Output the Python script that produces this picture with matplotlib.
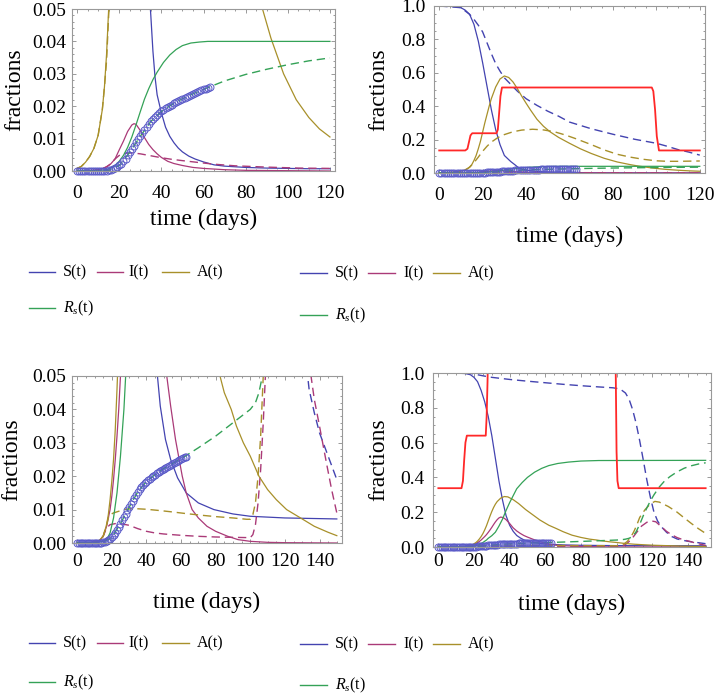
import matplotlib
matplotlib.use('Agg')
import matplotlib.pyplot as plt
from matplotlib.ticker import MultipleLocator, FormatStrFormatter
from matplotlib.lines import Line2D

plt.rcParams['font.family'] = ['Liberation Serif', 'DejaVu Serif']
plt.rcParams['mathtext.fontset'] = 'custom'
plt.rcParams['mathtext.rm'] = 'Liberation Serif'
plt.rcParams['mathtext.it'] = 'Liberation Serif:italic'

# ---- observed data (circles), shared by all panels ----
obs_day = list(range(64))
obs = [0, 0, 0, 0, 0, 0, 0, 0, 0, 0, 0, 0, 0,
       0.00005, 0.0001, 0.0002, 0.0004, 0.0006, 0.0009, 0.0013, 0.0017, 0.0023, 0.003,
       0.0038, 0.0048, 0.0058, 0.0068, 0.0078, 0.0088, 0.0098, 0.0107, 0.0117, 0.0126,
       0.0136, 0.0145, 0.0153, 0.0161, 0.0168, 0.0174, 0.0179, 0.0184, 0.0189, 0.0193,
       0.0197, 0.0201, 0.0205, 0.0209, 0.0213, 0.0216, 0.022, 0.0223, 0.0226, 0.0229,
       0.0232, 0.0235, 0.0238, 0.0241, 0.0244, 0.0247, 0.0249, 0.0252, 0.0254, 0.0256, 0.0258]

# ---- scenario 1 (top panels), days 0-120 ----
t_S1 = [0, 4, 8, 10, 12, 14, 16, 18, 20, 22, 24, 26, 28, 30, 32, 33, 34, 35, 36, 37, 38, 40, 42, 44,
        46, 48, 50, 53, 56, 60, 65, 70, 80, 90, 100, 110, 120]
S1 = [1.0, 0.999, 0.995, 0.99, 0.975, 0.95, 0.89, 0.79, 0.66, 0.52, 0.38, 0.26, 0.17, 0.105, 0.08,
      0.068, 0.058, 0.048, 0.037, 0.029, 0.0235, 0.018, 0.0135, 0.0107, 0.0087, 0.0071, 0.0059,
      0.0046, 0.0037, 0.0028, 0.0019, 0.0015, 0.0011, 0.0009, 0.0008, 0.0007, 0.0007]
t_S1d = [0, 10, 14, 16, 18, 20, 22, 24, 26, 28, 30, 33, 36, 40, 45, 50, 55, 60, 70, 80, 90, 100,
         105, 110, 115, 120]
S1d = [1.0, 0.99, 0.95, 0.92, 0.885, 0.845, 0.78, 0.715, 0.655, 0.61, 0.57, 0.53, 0.49, 0.445,
       0.405, 0.37, 0.34, 0.305, 0.265, 0.232, 0.202, 0.178, 0.16, 0.14, 0.125, 0.107]
t_I1 = [0, 5, 8, 10, 12, 14, 16, 18, 20, 22, 24, 26, 27, 28, 30, 32, 34, 36, 38, 40, 43, 46, 50,
        55, 60, 70, 80, 100, 120]
I1 = [0, 0.0001, 0.0002, 0.0004, 0.0007, 0.0013, 0.0022, 0.0037, 0.0065, 0.0092, 0.0122, 0.0142,
      0.0146, 0.0144, 0.0125, 0.0103, 0.0082, 0.0066, 0.0053, 0.0042, 0.003, 0.0023, 0.0017,
      0.0011, 0.0008, 0.0004, 0.0002, 0.0001, 0.0]
t_I1d = [0, 5, 8, 10, 12, 14, 16, 18, 20, 23, 26, 30, 35, 40, 45, 50, 58, 65, 75, 90, 105, 120]
I1d = [0, 0.0001, 0.0002, 0.0004, 0.0007, 0.0013, 0.0022, 0.0037, 0.0048, 0.0055, 0.0056, 0.0053,
       0.0047, 0.0041, 0.0036, 0.0032, 0.0026, 0.0021, 0.0016, 0.0012, 0.0009, 0.0008]
t_A1 = [0, 2, 4, 6, 8, 10, 12, 13, 14, 15, 16, 17, 18, 19, 20, 21, 22, 23, 24, 26, 28, 30, 32, 34,
        36, 38, 40, 42, 45, 48, 51, 55, 60, 65, 70, 76, 82, 88, 92, 98, 104, 110, 115, 120]
A1 = [0.0008, 0.0014, 0.0027, 0.0045, 0.007, 0.011, 0.019, 0.026, 0.036, 0.05, 0.075, 0.105, 0.145,
      0.19, 0.245, 0.3, 0.35, 0.4, 0.445, 0.515, 0.563, 0.581, 0.572, 0.545, 0.505, 0.46, 0.418,
      0.378, 0.322, 0.28, 0.247, 0.213, 0.178, 0.145, 0.117, 0.088, 0.066, 0.05, 0.041, 0.03,
      0.022, 0.0165, 0.013, 0.0105]
t_A1d = [0, 2, 4, 6, 8, 10, 12, 13, 14, 16, 18, 20, 22, 24, 27, 30, 34, 38, 43, 48, 53, 58, 63, 70,
         76, 82, 88, 94, 100, 105, 110, 115, 120]
A1d = [0.0008, 0.0014, 0.0027, 0.0045, 0.007, 0.011, 0.019, 0.026, 0.034, 0.062, 0.095, 0.13, 0.16,
       0.185, 0.212, 0.23, 0.247, 0.257, 0.262, 0.258, 0.247, 0.228, 0.205, 0.17, 0.138, 0.112,
       0.095, 0.082, 0.073, 0.07, 0.07, 0.071, 0.072]
t_R1 = [0, 10, 14, 16, 18, 20, 22, 24, 26, 28, 30, 32, 34, 36, 38, 41, 44, 47, 50, 54, 58, 62, 70, 120]
R1 = [0, 0.0001, 0.0004, 0.0009, 0.0017, 0.003, 0.0048, 0.0073, 0.0105, 0.0143, 0.0183, 0.0222,
      0.0254, 0.0282, 0.0305, 0.0335, 0.0358, 0.0375, 0.0387, 0.0395, 0.0398, 0.04, 0.04, 0.04]
t_R1d = [0, 10, 15, 20, 25, 30, 35, 40, 45, 50, 55, 60, 65, 70, 80, 90, 100, 110, 120]
R1d = [0, 0, 0.0002, 0.0017, 0.0058, 0.0107, 0.0153, 0.0184, 0.0205, 0.0223, 0.0238, 0.0252,
       0.0265, 0.0278, 0.0298, 0.0314, 0.0328, 0.034, 0.0349]
t_Q1 = [0, 12, 13, 13.7, 14.4, 15.2, 26.4, 27, 27.6, 28.2, 28.9, 97.9, 98.6, 99.4, 100.2, 101.2, 120]
Q1 = [0.135, 0.135, 0.145, 0.185, 0.225, 0.238, 0.238, 0.26, 0.36, 0.46, 0.512, 0.512, 0.49, 0.38,
      0.22, 0.135, 0.135]

# ---- scenario 2 (bottom panels), days 0-150 ----
t_S2 = [0, 10, 15, 18, 20, 22, 24, 26, 28, 30, 32, 34, 36, 38, 40, 42, 44, 46, 48, 51, 54, 58, 63,
        70, 79, 90, 100, 120, 150]
S2 = [1.0, 0.999, 0.997, 0.99, 0.975, 0.95, 0.9, 0.835, 0.75, 0.64, 0.51, 0.38, 0.27, 0.18, 0.125,
      0.09, 0.066, 0.052, 0.041, 0.031, 0.025, 0.0195, 0.015, 0.012, 0.01, 0.0087, 0.008, 0.0075,
      0.0072]
t_S2d = [0, 10, 18, 22, 26, 30, 40, 50, 60, 70, 80, 90, 98, 102, 105, 107, 109, 111, 113, 115, 117,
         119, 121, 123, 125, 128, 131, 134, 137, 140, 145, 150]
S2d = [1.0, 1.0, 0.998, 0.99, 0.982, 0.975, 0.963, 0.953, 0.944, 0.935, 0.927, 0.92, 0.915, 0.908,
       0.885, 0.85, 0.79, 0.71, 0.61, 0.5, 0.385, 0.285, 0.2, 0.15, 0.118, 0.085, 0.06, 0.046,
       0.039, 0.033, 0.026, 0.019]
t_I2 = [0, 8, 11, 13, 15, 17, 19, 20, 21, 22, 23, 24, 25, 26, 27, 28, 29, 30, 31, 32, 33, 34, 35,
        36, 37, 38, 40, 42, 44, 46, 48, 50, 52, 54, 56.8, 60.7, 63, 66.4, 70, 75, 80, 87, 93, 100,
        110, 120, 150]
I2 = [0, 0.0001, 0.0003, 0.0008, 0.002, 0.005, 0.01, 0.014, 0.019, 0.025, 0.032, 0.04, 0.05, 0.06,
      0.071, 0.084, 0.098, 0.113, 0.129, 0.144, 0.157, 0.167, 0.172, 0.17, 0.165, 0.157, 0.135,
      0.11, 0.092, 0.078, 0.066, 0.057, 0.049, 0.041, 0.031, 0.02, 0.015, 0.01, 0.0075, 0.005,
      0.0035, 0.002, 0.001, 0.0005, 0.0002, 0.0001, 0.0]
t_I2d = [0, 8, 11, 13, 15, 17, 19, 22, 26, 30, 35, 40, 45, 50, 60, 70, 80, 90, 100, 101.5, 103,
         104.5, 106, 107.5, 109, 111, 114, 117, 119.5, 122, 125, 128, 131, 134, 137, 140, 144, 147, 150]
I2d = [0, 0.0001, 0.0003, 0.0008, 0.002, 0.0045, 0.0055, 0.0058, 0.0057, 0.0053, 0.0043, 0.0035,
       0.003, 0.0027, 0.0023, 0.002, 0.0018, 0.0017, 0.0016, 0.0025, 0.0055, 0.012, 0.022, 0.036,
       0.053, 0.08, 0.12, 0.142, 0.15, 0.145, 0.118, 0.09, 0.07, 0.054, 0.043, 0.035, 0.024,
       0.016, 0.009]
t_A2 = [0, 8, 11, 13, 15, 17, 18, 19, 20, 21, 22, 23, 24, 25, 26, 27, 28, 29, 30, 31, 32, 33, 35,
        37, 39, 42, 45, 49, 53, 57, 62, 66, 70, 75, 80, 85, 89, 92, 96, 100, 105, 110, 115, 121,
        130, 137, 145, 150]
A2 = [0, 0.0001, 0.0003, 0.0009, 0.002, 0.0055, 0.0085, 0.013, 0.0185, 0.025, 0.034, 0.046, 0.06,
      0.077, 0.098, 0.122, 0.15, 0.178, 0.204, 0.227, 0.246, 0.261, 0.281, 0.29, 0.288, 0.272,
      0.25, 0.215, 0.185, 0.155, 0.125, 0.107, 0.088, 0.068, 0.055, 0.045, 0.04, 0.035, 0.03,
      0.026, 0.02, 0.016, 0.013, 0.01, 0.0072, 0.005, 0.0032, 0.0022]
t_A2d = [0, 8, 11, 13, 15, 17, 18, 19, 21, 24, 28, 33, 40, 48, 55, 63, 72, 80, 90, 98, 100, 101.5,
         103, 104.5, 106, 107.5, 109, 110, 111.5, 113, 116, 119, 121.5, 124, 129, 134, 138, 142,
         146, 150]
A2d = [0, 0.0001, 0.0003, 0.0009, 0.002, 0.0055, 0.0075, 0.0085, 0.009, 0.0095, 0.0101, 0.0103,
       0.0101, 0.0097, 0.0093, 0.0088, 0.0083, 0.0079, 0.0075, 0.0071, 0.0071, 0.0085, 0.012,
       0.02, 0.032, 0.05, 0.075, 0.095, 0.13, 0.17, 0.215, 0.248, 0.262, 0.258, 0.233, 0.2,
       0.167, 0.135, 0.105, 0.078]
t_R2 = [0, 10, 15, 17, 19, 21, 23, 25, 27, 28, 30, 32, 34, 36, 38, 40, 42, 44, 47, 50, 54, 58, 62,
        67, 73, 80, 90, 150]
R2 = [0, 0.0001, 0.0005, 0.001, 0.003, 0.0075, 0.015, 0.026, 0.04, 0.05, 0.065, 0.085, 0.12, 0.16,
      0.21, 0.255, 0.295, 0.335, 0.37, 0.4, 0.43, 0.452, 0.468, 0.48, 0.488, 0.494, 0.497, 0.498]
t_R2d = [0, 10, 15, 20, 25, 30, 35, 40, 45, 50, 55, 60, 63, 70, 80, 90, 100, 103, 105, 107, 109,
         111, 113, 115, 117, 119, 121, 124, 127, 130, 134, 138, 142, 146, 150]
R2d = [0, 0, 0.0002, 0.0017, 0.0058, 0.0107, 0.0153, 0.0184, 0.0205, 0.0223, 0.0238, 0.0252,
       0.0262, 0.0285, 0.032, 0.036, 0.04, 0.042, 0.045, 0.05, 0.06, 0.088, 0.13, 0.18, 0.225,
       0.265, 0.3, 0.345, 0.38, 0.405, 0.432, 0.453, 0.467, 0.477, 0.484]
t_Q2 = [0, 13, 13.8, 14.5, 15.2, 16, 26.6, 27.1, 27.6, 28.2, 99.2, 99.6, 100.0, 100.5, 101.2, 150]
Q2 = [0.338, 0.338, 0.38, 0.5, 0.6, 0.64, 0.64, 0.75, 0.95, 1.3, 1.3, 0.95, 0.55, 0.38, 0.338, 0.338]

legend_labels = ['S(t)', 'I(t)', 'A(t)', r'$R_s$(t)']

c_S = '#4343b0'
c_I = '#aa3a78'
c_A = '#a8902a'
c_R = '#34a257'
c_Q = '#ff2828'
c_obs = '#5a5ac8'
frame_col = '#999999'

W, H = 714, 696
fig = plt.figure(figsize=(W / 100, H / 100), dpi=100)


def add_ax(l, r, t, b):
    return fig.add_axes([l / W, 1 - b / H, (r - l) / W, (b - t) / H])


def style(ax, xmax, ylim, ymaj, ymin, fmt, xpad, ypad):
    ax.set_xlim(-0.02 * xmax, 1.02 * xmax)
    ax.set_ylim(*ylim)
    ax.xaxis.set_major_locator(MultipleLocator(20))
    ax.xaxis.set_minor_locator(MultipleLocator(5))
    ax.yaxis.set_major_locator(MultipleLocator(ymaj))
    ax.yaxis.set_minor_locator(MultipleLocator(ymin))
    ax.yaxis.set_major_formatter(FormatStrFormatter(fmt))
    ax.tick_params(which='both', direction='in', top=True, right=True, color=frame_col,
                   labelsize=14, width=0.7)
    ax.tick_params(which='major', length=3.2)
    ax.tick_params(which='minor', length=1.7)
    ax.tick_params(axis='x', pad=xpad)
    ax.tick_params(axis='y', pad=ypad)
    for s in ax.spines.values():
        s.set_color(frame_col)
        s.set_linewidth(0.8)


def draw(ax, curves, red):
    for t, v, c, dashed in curves:
        if dashed:
            ax.plot(t, v, color=c, lw=1.0, dashes=(6, 3.5))
        else:
            ax.plot(t, v, color=c, lw=0.9)
    ax.plot(obs_day, obs, 'o', ms=5, mfc='none', mec=c_obs, mew=0.7, clip_on=False)
    ax.plot(red[0], red[1], color=c_Q, lw=1.3)


curves1 = [(t_S1, S1, c_S, False), (t_S1d, S1d, c_S, True),
           (t_I1, I1, c_I, False), (t_I1d, I1d, c_I, True),
           (t_A1, A1, c_A, False), (t_A1d, A1d, c_A, True),
           (t_R1, R1, c_R, False), (t_R1d, R1d, c_R, True)]
curves2 = [(t_S2, S2, c_S, False), (t_S2d, S2d, c_S, True),
           (t_I2, I2, c_I, False), (t_I2d, I2d, c_I, True),
           (t_A2, A2, c_A, False), (t_A2d, A2d, c_A, True),
           (t_R2, R2, c_R, False), (t_R2d, R2d, c_R, True)]

ax1 = add_ax(72, 335, 9, 171)
ax2 = add_ax(434, 705, 6, 173)
ax3 = add_ax(72, 342, 376, 543)
ax4 = add_ax(433, 711, 373, 547)

draw(ax1, curves1, (t_Q1, Q1))
draw(ax2, curves1, (t_Q1, Q1))
draw(ax3, curves2, (t_Q2, Q2))
draw(ax4, curves2, (t_Q2, Q2))

style(ax1, 120, (0, 0.05), 0.01, 0.002, '%.2f', 10, 4)
style(ax2, 120, (0, 1.0), 0.2, 0.05, '%.1f', 10, 6)
style(ax3, 150, (0, 0.05), 0.01, 0.002, '%.2f', 7, 4)
style(ax4, 150, (0, 1.0), 0.2, 0.05, '%.1f', 4.5, 6)

# axis labels
for x, y in [(203.5, 219), (569.5, 236), (207, 602), (572, 604)]:
    fig.text(x / W, 1 - y / H, 'time (days)', ha='center', va='center', fontsize=17)
for x, y in [(15, 90), (379, 89.5), (12, 460), (379, 460)]:
    fig.text(x / W, 1 - y / H, 'fractions', ha='center', va='center', fontsize=17, rotation=90)

# legends
left_cols = [(29, 55, 63), (97, 123, 128), (162, 189, 197)]
right_cols = [(300, 327, 335), (368, 395, 403), (433, 460, 468)]
legend_rows = [(left_cols, 272, 308), (right_cols, 273, 315),
               (left_cols, 643, 682), (right_cols, 644, 685)]
leg_colors = [c_S, c_I, c_A, c_R]
for cols, y1, y2 in legend_rows:
    slots = [(cols[0], y1), (cols[1], y1), (cols[2], y1), (cols[0], y2)]
    for ((x0, x1, xt), y), c, lab in zip(slots, leg_colors, legend_labels):
        fig.add_artist(Line2D([x0 / W, x1 / W], [1 - y / H, 1 - y / H], color=c, lw=1.0,
                              transform=fig.transFigure))
        fig.text(xt / W, 1 - y / H, lab, ha='left', va='center', fontsize=11.5)

fig.savefig('out.png', dpi=100)
